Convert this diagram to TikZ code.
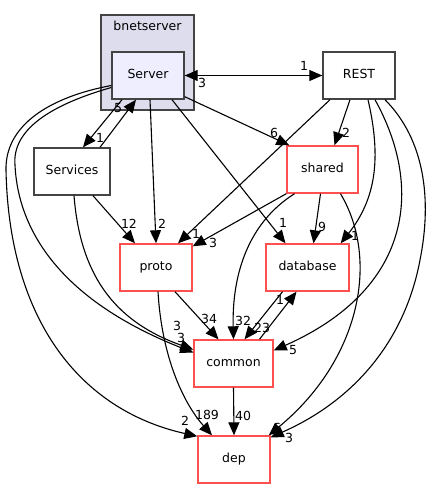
\documentclass[tikz,border=0pt]{standalone}
\usepackage{fontspec}
\setmainfont{DejaVu Sans}
\usetikzlibrary{arrows.meta,positioning}
\definecolor{clusterfill}{HTML}{DDDDEE}
\definecolor{serverfill}{HTML}{EEEEFF}
\definecolor{boxline}{HTML}{444444}
\definecolor{redline}{HTML}{FF5050}

\begin{document}
\begin{tikzpicture}[
  x=1pt, y=-1pt,
  font=\fontsize{12.5}{14}\selectfont,
  dirbox/.style={rectangle, draw=boxline, line width=1.4pt, fill=white, minimum width=72pt, minimum height=47pt, inner sep=0pt, text height=9pt, text depth=2.5pt},
  reddir/.style={dirbox, draw=redline},
  cluster/.style={rectangle, draw=boxline, line width=1.4pt, fill=clusterfill, minimum width=93pt, minimum height=95pt, inner sep=0pt},
  link/.style={-{Triangle[length=13pt,width=11pt]}, line width=1.1pt},
  lbl/.style={font=\fontsize{12.5}{14}\selectfont, inner sep=0pt}
]
\useasboundingbox (0,0) rectangle (432,489);

% directories
\node[cluster] (bnet) at (147.5,62.5) {};
\node (bnetlbl) at (147.5,26) {bnetserver};
\node[dirbox, fill=serverfill] (Server) at (148,75.5) {Server};
\node[dirbox] (REST) at (359,75.5) {REST};
\node[dirbox, minimum width=76pt] (Services) at (72,171.5) {Services};
\node[reddir, minimum width=71pt] (shared) at (322.5,169.5) {shared};
\node[reddir] (proto) at (156,267.5) {proto};
\node[reddir, minimum width=83pt] (database) at (307.5,267.5) {database};
\node[reddir, minimum width=79pt] (common) at (233.5,363.5) {common};
\node[reddir] (dep) at (234,459.5) {dep};

% Server
\draw[link] (Server.east) -- (REST.west) node[lbl, at={(304,66)}] {1};
\draw[link] (REST.west) -- (Server.east) node[lbl, at={(202,83)}] {3};
\draw[link] ([xshift=-26pt]Server.south) -- ([xshift=11pt]Services.north) node[lbl, at={(100,138)}] {1};
\draw[link] ([xshift=28pt]Services.north) -- ([xshift=-12pt]Server.south) node[lbl, at={(118,108)}] {5};
\draw[link] ([xshift=2pt]Server.south) -- (proto.north) node[lbl, at={(162,224)}] {2};
\draw[link] ([xshift=24pt]Server.south) -- ([xshift=-22pt]database.north) node[lbl, at={(283,223)}] {1};
\draw[link] ([yshift=3pt]Server.south east) -- ([xshift=3pt]shared.north west) node[lbl, at={(274,133)}] {6};
\draw[link] ([yshift=-10pt]Server.west) .. controls (50,97) and (5,125) .. (6,170)
  .. controls (9,320) and (80,410) .. ([yshift=-1pt]dep.north west) node[lbl, at={(185,421)}] {2};
\draw[link] ([yshift=-12pt]Server.west) .. controls (50,105) and (12,130) .. (15,165)
  .. controls (18,230) and (60,300) .. ([yshift=11pt]common.west) node[lbl, at={(177,326)}] {3};

% Services
\draw[link] ([xshift=21pt]Services.south) -- ([xshift=-21pt]proto.north) node[lbl, at={(129,224)}] {12};
\draw[link] ([xshift=2pt]Services.south) .. controls (80,270) and (110,320) .. ([yshift=14pt]common.west) node[lbl, at={(181,338)}] {3};

% REST
\draw[link] ([xshift=-29pt]REST.south) -- ([xshift=22pt]proto.north) node[lbl, at={(196,234)}] {1};
\draw[link] ([xshift=-9pt]REST.south) -- ([xshift=12pt]shared.north) node[lbl, at={(346,133)}] {2};
\draw[link] ([xshift=9pt]REST.south) .. controls (382,160) and (375,200) .. ([xshift=-9pt]database.north east) node[lbl, at={(355,236)}] {1};
\draw[link] ([xshift=16pt]REST.south) .. controls (425,190) and (410,290) .. ([yshift=13pt]common.east) node[lbl, at={(293,350)}] {5};
\draw[link] ([xshift=26pt]REST.south) .. controls (425,140) and (432,200) .. (420,260)
  .. controls (405,340) and (355,400) .. ([yshift=-2pt]dep.north east) node[lbl, at={(289,438)}] {3};

% shared
\draw[link] (shared.south west) -- ([yshift=-3pt]proto.north east) node[lbl, at={(213,243)}] {3};
\draw[link] ([xshift=-2pt]shared.south) -- ([xshift=6pt]database.north) node[lbl, at={(322,227)}] {9};
\draw[link] ([xshift=-28pt]shared.south) .. controls (245,225) and (232,280) .. (common.north) node[lbl, at={(243,321)}] {32};
\draw[link] ([xshift=18pt]shared.south) .. controls (380,260) and (360,360) .. ([xshift=-2pt]dep.north east) node[lbl, at={(277,428)}] {6};

% proto
\draw[link] ([xshift=19pt]proto.south) -- ([xshift=-15pt]common.north) node[lbl, at={(209,319)}] {34};
\draw[link] ([xshift=2pt]proto.south) .. controls (162,360) and (185,405) .. ([xshift=-22pt]dep.north) node[lbl, at={(207,415)}] {189};

% database and common
\draw[link] ([xshift=-25pt]database.south) -- ([xshift=11pt]common.north) node[lbl, at={(262,328)}] {23};
\draw[link] ([xshift=26pt]common.north) -- ([xshift=-11pt]database.south) node[lbl, at={(280,300)}] {1};
\draw[link] (common.south) -- (dep.north) node[lbl, at={(243,416)}] {40};

\end{tikzpicture}
\end{document}
